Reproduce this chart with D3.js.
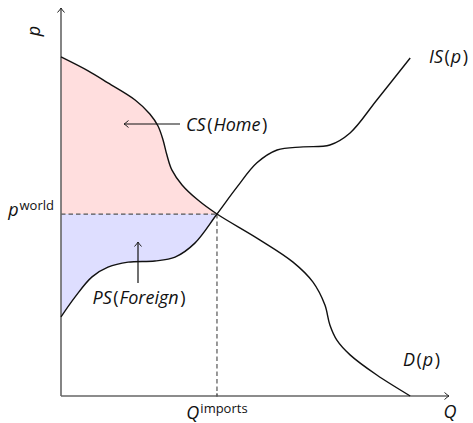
<!DOCTYPE html>
<html>
<head>
<meta charset="utf-8">
<script src="https://cdn.jsdelivr.net/npm/d3@7"></script>
<style>
  body { margin: 0; background: #fff; }
  text { font-family: "Open Sans", Lato, "DejaVu Sans", sans-serif; fill: #111; }
  .math { font-style: italic; }
</style>
</head>
<body>
<div id="chart"></div>
<script>
const width = 473;
const height = 423;

// Home demand D(p) (Q, p)
const demandQ = [0, 0.70, 1.21, 1.91, 2.29, 2.50, 2.63, 2.73, 2.86, 3.12, 3.53, 4.02, 5.08, 5.98, 6.49, 6.80, 6.93, 7.11, 7.45, 8.14, 9.0];
const demandP = [8.74, 8.38, 8.07, 7.63, 7.27, 6.96, 6.60, 6.21, 5.82, 5.44, 5.05, 4.69, 4.05, 3.45, 2.94, 2.35, 1.83, 1.44, 1.06, 0.54, 0];

// Foreign import supply IS(p)
const supplyQ = [0, 0.36, 0.80, 1.21, 1.73, 2.42, 2.94, 3.45, 4.02, 4.54, 5.05, 5.57, 6.24, 6.93, 7.45, 8.14, 9.0];
const supplyP = [2.04, 2.55, 3.07, 3.32, 3.45, 3.48, 3.58, 3.94, 4.69, 5.39, 6.01, 6.34, 6.42, 6.47, 6.78, 7.63, 8.71];

// world price and imports at the crossing
const pWorld = 4.69;
const qImports = 4.02;

const demand = demandQ.map((q, i) => ({ q: q, p: demandP[i] }));
const supply = supplyQ.map((q, i) => ({ q: q, p: supplyP[i] }));

const svg = d3.select('#chart')
  .append('svg')
  .attr('width', width)
  .attr('height', height);

const defs = svg.append('defs');
defs.append('marker')
  .attr('id', 'tip')
  .attr('viewBox', '-6 -5 8 10')
  .attr('refX', 0)
  .attr('refY', 0)
  .attr('markerWidth', 8)
  .attr('markerHeight', 10)
  .attr('markerUnits', 'userSpaceOnUse')
  .attr('orient', 'auto')
  .append('path')
  .attr('d', 'M-4.5,-3.5 Q-1.5,-0.8 0,0 Q-1.5,0.8 -4.5,3.5')
  .attr('fill', 'none')
  .attr('stroke', '#222')
  .attr('stroke-width', 1);

// scales
const x = d3.scaleLinear().domain([0, 10]).range([61, 449]);
const y = d3.scaleLinear().domain([0, 10]).range([396, 8]);

const curve = d3.curveCatmullRom.alpha(0.5);

// surplus areas
const surplusArea = d3.area()
  .x(d => x(d.q))
  .y0(y(pWorld))
  .y1(d => y(d.p))
  .curve(curve);

svg.append('path')
  .datum(demand.slice(0, demandQ.indexOf(qImports) + 1))
  .attr('fill', '#ffdede')
  .attr('d', surplusArea);

svg.append('path')
  .datum(supply.slice(0, supplyQ.indexOf(qImports) + 1))
  .attr('fill', '#dedeff')
  .attr('d', surplusArea);

// dashed guides
svg.append('line')
  .attr('x1', x(0)).attr('x2', x(qImports))
  .attr('y1', y(pWorld)).attr('y2', y(pWorld))
  .attr('stroke', '#555')
  .attr('stroke-width', 1.2)
  .attr('stroke-dasharray', '4.5,3');

svg.append('line')
  .attr('x1', x(qImports)).attr('x2', x(qImports))
  .attr('y1', y(pWorld)).attr('y2', y(0))
  .attr('stroke', '#555')
  .attr('stroke-width', 1.2)
  .attr('stroke-dasharray', '4.5,3');

// axes
svg.append('line')
  .attr('x1', x(0)).attr('y1', y(0))
  .attr('x2', x(10)).attr('y2', y(0))
  .attr('stroke', '#666')
  .attr('stroke-width', 1.6)
  .attr('marker-end', 'url(#tip)');

svg.append('line')
  .attr('x1', x(0)).attr('y1', y(0))
  .attr('x2', x(0)).attr('y2', y(10))
  .attr('stroke', '#666')
  .attr('stroke-width', 1.6)
  .attr('marker-end', 'url(#tip)');

// tick for imports
svg.append('line')
  .attr('x1', x(qImports)).attr('x2', x(qImports))
  .attr('y1', y(0) - 3).attr('y2', y(0) + 1)
  .attr('stroke', '#555')
  .attr('stroke-width', 1);

// curves
const line = d3.line()
  .x(d => x(d.q))
  .y(d => y(d.p))
  .curve(curve);

svg.append('path')
  .datum(demand)
  .attr('fill', 'none')
  .attr('stroke', '#111')
  .attr('stroke-width', 1.4)
  .attr('d', line);

svg.append('path')
  .datum(supply)
  .attr('fill', 'none')
  .attr('stroke', '#111')
  .attr('stroke-width', 1.4)
  .attr('d', line);

// annotation arrows
svg.append('line')
  .attr('x1', 180).attr('y1', 124)
  .attr('x2', 124).attr('y2', 124)
  .attr('stroke', '#111')
  .attr('stroke-width', 1.2)
  .attr('marker-end', 'url(#tip)');

svg.append('line')
  .attr('x1', 138).attr('y1', 283)
  .attr('x2', 138).attr('y2', 242)
  .attr('stroke', '#111')
  .attr('stroke-width', 1.2)
  .attr('marker-end', 'url(#tip)');

// labels
const fs = 18;

svg.append('text')
  .attr('class', 'math')
  .attr('transform', 'translate(40,31) rotate(-90)')
  .attr('text-anchor', 'middle')
  .style('font-size', fs + 'px')
  .text('p');

const pw = svg.append('text')
  .attr('x', 54).attr('y', 216)
  .attr('text-anchor', 'end')
  .style('font-size', fs + 'px');
pw.append('tspan').attr('class', 'math').text('p');
pw.append('tspan').attr('dy', -6).attr('dx', 1).style('font-size', '13px').text('world');

const qi = svg.append('text')
  .attr('x', x(qImports)).attr('y', 419)
  .attr('text-anchor', 'middle')
  .style('font-size', fs + 'px');
qi.append('tspan').attr('class', 'math').text('Q');
qi.append('tspan').attr('dy', -6).attr('dx', 1).style('font-size', '13px').text('imports');

svg.append('text')
  .attr('class', 'math')
  .attr('x', 450).attr('y', 418)
  .attr('text-anchor', 'middle')
  .style('font-size', fs + 'px')
  .text('Q');

function mathLabel(xp, yp, fn, arg, anchor) {
  const t = svg.append('text')
    .attr('x', xp).attr('y', yp)
    .attr('text-anchor', anchor || 'start')
    .style('font-size', fs + 'px');
  t.append('tspan').attr('class', 'math').text(fn);
  t.append('tspan').attr('dx', 1.5).text('(');
  t.append('tspan').attr('class', 'math').attr('dx', 1).text(arg);
  t.append('tspan').attr('dx', 1.5).text(')');
}

mathLabel(186, 131, 'CS', 'Home');
mathLabel(139, 304, 'PS', 'Foreign', 'middle');
mathLabel(429, 63, 'IS', 'p');
mathLabel(403, 366, 'D', 'p');
</script>
</body>
</html>
